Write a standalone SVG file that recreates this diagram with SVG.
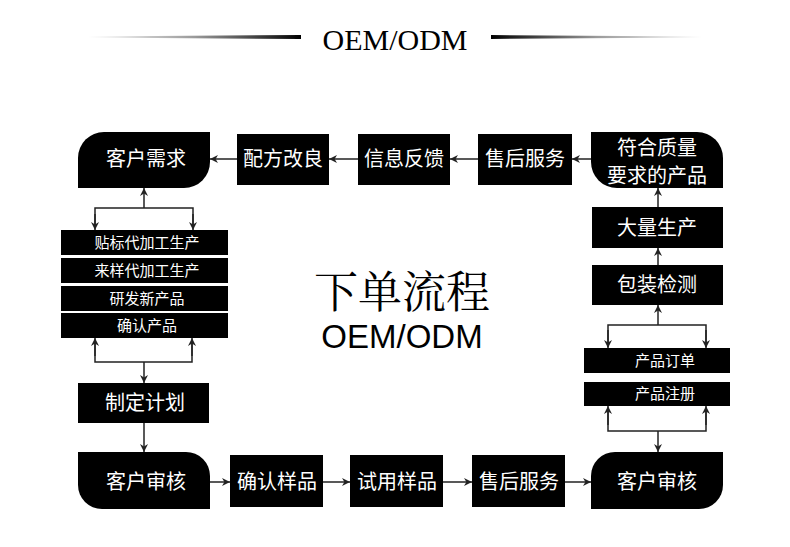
<svg xmlns="http://www.w3.org/2000/svg" width="790" height="547" viewBox="0 0 790 547">
<defs>
<linearGradient id="gl" x1="88" y1="0" x2="301" y2="0" gradientUnits="userSpaceOnUse">
<stop offset="0" stop-color="#ffffff"/>
<stop offset="0.5" stop-color="#9a9a9a"/>
<stop offset="1" stop-color="#000000"/>
</linearGradient>
<linearGradient id="gr" x1="491" y1="0" x2="702" y2="0" gradientUnits="userSpaceOnUse">
<stop offset="0" stop-color="#000000"/>
<stop offset="0.5" stop-color="#9a9a9a"/>
<stop offset="1" stop-color="#ffffff"/>
</linearGradient>
<marker id="ah" viewBox="0 0 10 10" refX="10" refY="5" markerWidth="8" markerHeight="8" markerUnits="userSpaceOnUse" orient="auto">
<path d="M0,0 L10,5 L0,10 L3,5 Z" fill="#222"/>
</marker>
<style>
.n{fill:#000}
.t{fill:#fff;font-family:"Noto Sans CJK SC","Noto Sans",sans-serif;font-size:20px;text-anchor:middle}
.s{fill:#fff;font-family:"Noto Sans CJK SC","Noto Sans",sans-serif;font-size:15px;text-anchor:middle}
.c{fill:none;stroke:#222;stroke-width:1.5}
.a{fill:none;stroke:#222;stroke-width:1.5;marker-end:url(#ah)}
</style>
</defs>
<rect width="790" height="547" fill="#fff"/>
<g id="header">
<polygon points="88,36.6 301,35 301,39 88,37.4" fill="url(#gl)"/>
<polygon points="491,35 702,36.6 702,37.4 491,39" fill="url(#gr)"/>
<text x="395" y="50" font-family="Liberation Serif, serif" font-size="30" text-anchor="middle" fill="#000">OEM/ODM</text>
</g>
<g id="center-title">
<text x="402" y="308" font-family="'Noto Serif CJK SC','Noto Sans CJK SC',serif" font-size="44" text-anchor="middle" fill="#000">下单流程</text>
<text x="402" y="348" font-family="Liberation Sans, Arial, sans-serif" font-size="33" text-anchor="middle" fill="#000">OEM/ODM</text>
</g>
<g id="connectors">
<line class="a" x1="237" y1="159" x2="210" y2="159"/>
<line class="a" x1="358" y1="159" x2="329" y2="159"/>
<line class="a" x1="478" y1="159" x2="450" y2="159"/>
<line class="a" x1="591" y1="159" x2="572" y2="159"/>
<line class="a" x1="658" y1="207" x2="658" y2="188"/>
<line class="a" x1="658" y1="265" x2="658" y2="248"/>
<line class="a" x1="658" y1="325" x2="658" y2="305"/>
<polyline class="c" points="608,347 608,325 706,325 706,347"/>
<line class="a" x1="608" y1="330" x2="608" y2="348"/>
<line class="a" x1="706" y1="330" x2="706" y2="348"/>
<polyline class="c" points="608,410 608,431 706,431 706,410"/>
<line class="a" x1="608" y1="425" x2="608" y2="406"/>
<line class="a" x1="706" y1="425" x2="706" y2="406"/>
<line class="a" x1="658" y1="431" x2="658" y2="452"/>
<line class="a" x1="144" y1="208" x2="144" y2="188"/>
<polyline class="c" points="95,228 95,208 193,208 193,228"/>
<line class="a" x1="95" y1="214" x2="95" y2="230"/>
<line class="a" x1="193" y1="214" x2="193" y2="230"/>
<polyline class="c" points="95,342 95,362 192,362 192,342"/>
<line class="a" x1="95" y1="356" x2="95" y2="338"/>
<line class="a" x1="192" y1="356" x2="192" y2="338"/>
<line class="a" x1="144" y1="362" x2="144" y2="383"/>
<line class="a" x1="144" y1="423" x2="144" y2="452"/>
<line class="a" x1="210" y1="482" x2="230" y2="482"/>
<line class="a" x1="323" y1="482" x2="350" y2="482"/>
<line class="a" x1="443" y1="482" x2="472" y2="482"/>
<line class="a" x1="565" y1="482" x2="591" y2="482"/>
</g>
<g id="n-kehu-xuqiu"><path class="n" d="M104,132 H210 V162 A26,26 0 0 1 184,188 H78 V158 A26,26 0 0 1 104,132 Z"/><text class="t" x="146" y="166">客户需求</text></g>
<g id="n-peifang"><rect class="n" x="237" y="134" width="92" height="51"/><text class="t" x="283" y="166">配方改良</text></g>
<g id="n-xinxi"><rect class="n" x="358" y="134" width="92" height="51"/><text class="t" x="404" y="166">信息反馈</text></g>
<g id="n-shouhou-top"><rect class="n" x="478" y="134" width="94" height="51"/><text class="t" x="525" y="166">售后服务</text></g>
<g id="n-fuhe"><path class="n" d="M591,132 H697 A26,26 0 0 1 723,158 V188 H617 A26,26 0 0 1 591,162 Z"/><text class="t" x="657" y="155">符合质量</text><text class="t" x="657" y="183">要求的产品</text></g>
<g id="n-daliang"><rect class="n" x="592" y="207" width="131" height="41"/><text class="t" x="657" y="235">大量生产</text></g>
<g id="n-baozhuang"><rect class="n" x="592" y="265" width="131" height="40"/><text class="t" x="657" y="292">包装检测</text></g>
<g id="n-dingdan"><rect class="n" x="584" y="348" width="146" height="25"/><text class="s" x="665" y="366" font-size="14">产品订单</text></g>
<g id="n-zhuce"><rect class="n" x="584" y="382" width="146" height="24"/><text class="s" x="665" y="399" font-size="14">产品注册</text></g>
<g id="n-list1"><rect class="n" x="61" y="230" width="167" height="25"/><text class="s" x="147" y="248">贴标代加工生产</text></g>
<g id="n-list2"><rect class="n" x="61" y="258" width="167" height="25"/><text class="s" x="147" y="276">来样代加工生产</text></g>
<g id="n-list3"><rect class="n" x="61" y="286" width="167" height="25"/><text class="s" x="147" y="304">研发新产品</text></g>
<g id="n-list4"><rect class="n" x="61" y="313" width="167" height="25"/><text class="s" x="147" y="331">确认产品</text></g>
<g id="n-zhiding"><rect class="n" x="78" y="383" width="131" height="40"/><text class="t" x="145" y="410">制定计划</text></g>
<g id="n-shenhe-left"><path class="n" d="M78,452 H186 A24,24 0 0 1 210,476 V509 H102 A24,24 0 0 1 78,485 Z"/><text class="t" x="146" y="489">客户审核</text></g>
<g id="n-queren"><rect class="n" x="230" y="455" width="93" height="52"/><text class="t" x="277" y="489">确认样品</text></g>
<g id="n-shiyong"><rect class="n" x="350" y="455" width="93" height="52"/><text class="t" x="397" y="489">试用样品</text></g>
<g id="n-shouhou-bottom"><rect class="n" x="472" y="455" width="93" height="52"/><text class="t" x="519" y="489">售后服务</text></g>
<g id="n-shenhe-right"><path class="n" d="M615,452 H723 V485 A24,24 0 0 1 699,509 H591 V476 A24,24 0 0 1 615,452 Z"/><text class="t" x="657" y="489">客户审核</text></g>
</svg>
